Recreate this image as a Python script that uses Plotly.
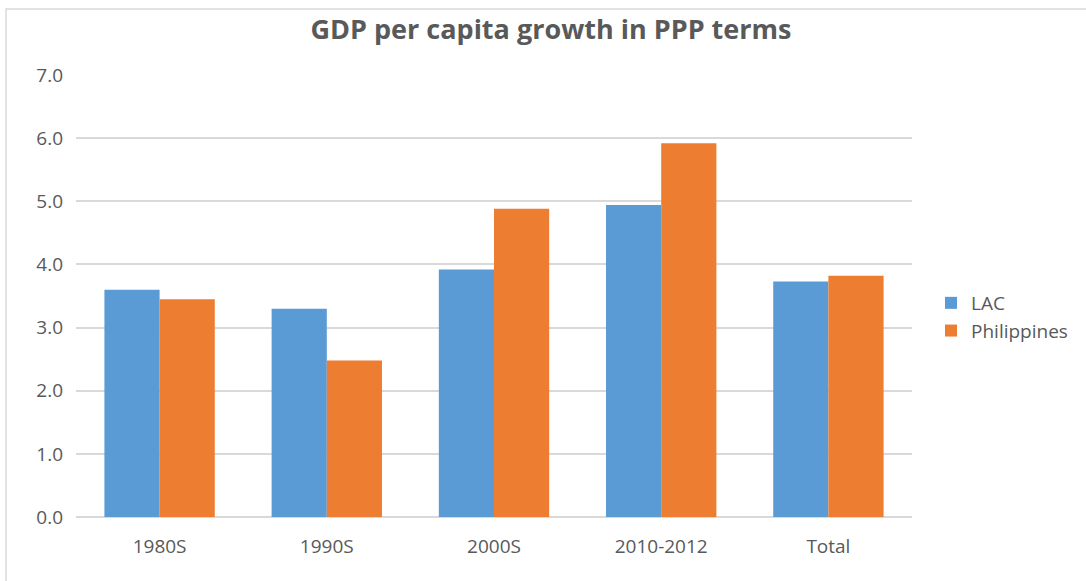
import plotly.graph_objects as go

# Excel-style palette
COLORS = {
    'LAC': '#5B9BD5',
    'Philippines': '#ED7D31',
    'Text': '#595959',
    'Grid': '#D9D9D9',
}

periods = ['1980S', '1990S', '2000S', '2010-2012', 'Total']
lac = [3.60, 3.30, 3.92, 4.94, 3.73]
philippines = [3.45, 2.48, 4.88, 5.92, 3.82]
y_ticks = [0, 1, 2, 3, 4, 5, 6, 7]
y_tick_labels = ['0.0', '1.0', '2.0', '3.0', '4.0', '5.0', '6.0', '7.0']

FONT = 'Open Sans'

fig = go.Figure()
fig.add_trace(go.Bar(x=periods, y=lac, name='LAC',
                     marker=dict(color=COLORS['LAC'], line_width=0)))
fig.add_trace(go.Bar(x=periods, y=philippines, name='Philippines',
                     marker=dict(color=COLORS['Philippines'], line_width=0)))

# plot area: x 76..912, y 75..517
L, R, T, B = 76, 174, 75, 64
W, H = 1086, 581
pw, ph = W - L - R, H - T - B

fig.update_layout(
    width=W, height=H,
    margin=dict(l=L, r=R, t=T, b=B, autoexpand=False),
    barmode='group',
    bargap=0.34,
    bargroupgap=0,
    plot_bgcolor='white',
    paper_bgcolor='white',
    font=dict(family=FONT, size=19, color=COLORS['Text']),
    title=dict(text='<b>GDP per capita growth in PPP terms</b>',
               x=551 / W, xanchor='center', xref='container',
               y=1 - 30 / H, yanchor='middle', yref='container',
               font=dict(family=FONT, size=27, color=COLORS['Text'])),
    legend=dict(x=(931 - L) / pw, xanchor='left',
                y=(H - B - 317) / ph, yanchor='middle',
                font=dict(size=19, color=COLORS['Text']),
                itemwidth=30, tracegroupgap=0, bgcolor='rgba(0,0,0,0)'),
    xaxis=dict(showgrid=False, showline=False, ticks='',
               ticklabelstandoff=16,
               tickfont=dict(size=19, color=COLORS['Text'])),
    yaxis=dict(range=[0, 7], tickvals=y_ticks, ticktext=y_tick_labels,
               showgrid=True, gridcolor=COLORS['Grid'], gridwidth=1.5,
               zeroline=True, zerolinecolor=COLORS['Grid'], zerolinewidth=1.5,
               showline=False, ticks='', ticklabelstandoff=12,
               tickfont=dict(size=19, color=COLORS['Text'])),
    shapes=[dict(type='rect', xref='paper', yref='paper',
                 x0=(6 - L) / pw, x1=(W + 10 - L) / pw,
                 y0=(H - B - (H + 10)) / ph, y1=(H - B - 9) / ph,
                 line=dict(color='#D9D9D9', width=1.5), layer='below')],
)

# drop the browser's default body margin so the figure sits at 0,0
fig.write_html('out.html', config={'displayModeBar': False},
               post_script="document.body.style.margin='0';")
